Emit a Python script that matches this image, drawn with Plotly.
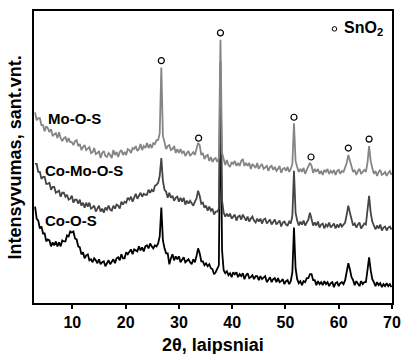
import plotly.graph_objects as go

# 2θ sampling grid (3.0 ... 69.9, step 0.3)
two_theta = [round(3.0 + 0.3 * i, 1) for i in range(224)]

mo_o_s = [
    192, 184, 186, 186, 179, 179, 173, 178, 176, 172,
    175, 168, 170, 171, 166, 172, 166, 163, 166, 167,
    162, 166, 162, 162, 159, 163, 164, 158, 160, 154,
    157, 159, 154, 156, 157, 151, 152, 156, 150, 151,
    153, 146, 151, 153, 148, 147, 151, 149, 146, 154,
    149, 152, 147, 152, 154, 149, 152, 149, 155, 154,
    151, 156, 155, 158, 153, 155, 160, 154, 158, 156,
    161, 156, 160, 156, 161, 160, 164, 164, 171, 237,
    168, 162, 155, 158, 159, 154, 155, 158, 151, 155,
    151, 155, 151, 153, 148, 151, 153, 148, 150, 152,
    149, 154, 161, 159, 149, 151, 145, 148, 149, 143,
    147, 142, 145, 146, 142, 146, 265, 151, 144, 139,
    144, 139, 137, 142, 140, 143, 138, 141, 138, 143,
    145, 138, 141, 138, 141, 135, 140, 138, 136, 141,
    135, 138, 140, 135, 137, 138, 133, 137, 138, 134,
    137, 133, 135, 138, 131, 135, 136, 133, 137, 132,
    135, 140, 181, 143, 137, 132, 135, 132, 136, 130,
    134, 137, 141, 138, 131, 135, 132, 135, 130, 133,
    129, 134, 132, 135, 130, 133, 131, 134, 129, 133,
    134, 130, 133, 132, 136, 141, 149, 143, 137, 132,
    134, 129, 133, 135, 130, 132, 134, 132, 141, 158,
    143, 136, 130, 133, 128, 132, 134, 129, 130, 132,
    128, 131, 133, 129,
]

co_mo_o_s = [
    140, 140, 132, 132, 125, 127, 127, 120, 120, 121,
    114, 117, 117, 111, 112, 113, 107, 111, 111, 107,
    109, 104, 105, 108, 101, 104, 104, 100, 104, 98,
    101, 96, 101, 97, 101, 95, 96, 98, 92, 96,
    98, 92, 95, 91, 96, 94, 98, 94, 93, 98,
    95, 99, 98, 95, 102, 99, 102, 101, 106, 104,
    107, 102, 107, 110, 105, 108, 111, 107, 110, 109,
    109, 114, 111, 114, 112, 118, 119, 121, 128, 146,
    123, 114, 112, 106, 111, 106, 108, 103, 106, 107,
    102, 106, 102, 106, 99, 103, 100, 103, 101, 98,
    102, 105, 113, 108, 100, 101, 96, 98, 93, 97,
    93, 95, 89, 92, 92, 95, 243, 103, 91, 87,
    90, 87, 90, 85, 87, 89, 83, 87, 88, 84,
    89, 86, 83, 87, 82, 85, 87, 83, 81, 85,
    82, 85, 80, 84, 85, 80, 82, 84, 79, 82,
    84, 79, 81, 83, 77, 81, 82, 79, 78, 82,
    80, 88, 133, 91, 83, 78, 82, 79, 83, 78,
    81, 84, 91, 85, 78, 81, 78, 82, 76, 79,
    80, 75, 79, 77, 81, 76, 78, 80, 75, 79,
    76, 80, 77, 79, 81, 89, 98, 91, 84, 78,
    80, 76, 79, 81, 75, 78, 80, 79, 93, 108,
    91, 82, 78, 74, 78, 75, 79, 73, 76, 77,
    73, 76, 77, 74,
]

co_o_s = [
    97, 85, 83, 75, 77, 70, 70, 62, 64, 63,
    57, 61, 58, 62, 57, 61, 57, 63, 62, 62,
    68, 67, 72, 71, 72, 65, 64, 57, 56, 49,
    51, 45, 48, 49, 43, 44, 41, 45, 43, 40,
    44, 39, 41, 42, 37, 41, 43, 39, 41, 44,
    40, 45, 46, 43, 49, 45, 45, 51, 49, 52,
    54, 49, 54, 53, 52, 57, 53, 56, 52, 57,
    58, 55, 60, 57, 55, 58, 57, 60, 67, 96,
    63, 55, 50, 50, 39, 45, 49, 43, 47, 44,
    47, 41, 44, 46, 41, 43, 44, 41, 39, 44,
    41, 47, 55, 50, 42, 42, 38, 40, 37, 39,
    35, 34, 29, 31, 34, 38, 213, 53, 33, 30,
    32, 28, 30, 26, 31, 29, 31, 26, 29, 27,
    30, 24, 28, 30, 25, 26, 28, 24, 27, 27,
    23, 27, 24, 26, 27, 21, 24, 26, 21, 24,
    25, 21, 25, 21, 22, 24, 19, 22, 23, 19,
    22, 31, 76, 35, 24, 20, 22, 18, 22, 21,
    25, 25, 29, 29, 23, 23, 18, 22, 19, 21,
    18, 22, 19, 21, 17, 20, 21, 16, 20, 21,
    17, 20, 21, 19, 23, 31, 40, 34, 26, 23,
    18, 22, 20, 17, 22, 19, 21, 21, 33, 46,
    33, 24, 21, 17, 21, 18, 20, 16, 19, 17,
    20, 17, 19, 16,
]

# SnO2 reflection markers (2θ, marker height)
sno2_2theta = [26.7, 33.7, 37.8, 51.6, 54.8, 61.8, 65.7]
sno2_mark = [244, 166, 272, 187, 147, 156, 165]

series_names = ["Co-O-S", "Co-Mo-O-S", "Mo-O-S"]
series_colors = ["#000000", "#454545", "#858585"]
label_2theta = [4.45, 4.45, 5.0]
label_y = [83, 133, 186]

fig = go.Figure()
for name, vals, col in zip(series_names, [co_o_s, co_mo_o_s, mo_o_s], series_colors):
    fig.add_trace(go.Scatter(x=two_theta, y=vals, mode="lines", name=name,
                             line=dict(color=col, width=1.8), showlegend=False))

fig.add_trace(go.Scatter(x=sno2_2theta, y=sno2_mark, mode="markers",
                         marker=dict(symbol="circle-open", size=6, color="black",
                                     line=dict(width=1.2)),
                         showlegend=False))
# legend symbol
fig.add_trace(go.Scatter(x=[59.2], y=[276], mode="markers",
                         marker=dict(symbol="circle-open", size=4.5, color="black",
                                     line=dict(width=1)),
                         showlegend=False))

font = "Arial, Liberation Sans, sans-serif"
for name, lx, ly in zip(series_names, label_2theta, label_y):
    fig.add_annotation(x=lx, y=ly, text="<b>%s</b>" % name, showarrow=False,
                       xanchor="left", yanchor="middle",
                       font=dict(family=font, size=15, color="black"))

fig.add_annotation(x=60.6, y=276, text="<b>SnO<sub>2</sub></b>", showarrow=False,
                   xanchor="left", yanchor="middle",
                   font=dict(family=font, size=16, color="black"))

fig.add_annotation(xref="paper", yref="paper", x=(15 - 34) / 366, y=0.5,
                   text="<b>Intensyvumas, sant.vnt.</b>", textangle=-90,
                   showarrow=False, xanchor="center", yanchor="middle",
                   font=dict(family=font, size=18, color="black"))
fig.add_annotation(xref="paper", yref="paper", x=0.5, y=(303 - 345) / 294,
                   text="<b>2θ, laipsniai</b>", showarrow=False,
                   xanchor="center", yanchor="middle",
                   font=dict(family=font, size=18, color="black"))

fig.update_layout(
    width=410, height=354,
    margin=dict(l=34, r=10, t=9, b=51),
    paper_bgcolor="white", plot_bgcolor="white",
    font=dict(family=font, color="black"),
)
fig.update_xaxes(range=[2.8, 70], tickmode="array",
                 tickvals=[10, 20, 30, 40, 50, 60, 70],
                 ticktext=["<b>%d</b>" % v for v in [10, 20, 30, 40, 50, 60, 70]],
                 tickfont=dict(family=font, size=16, color="black"),
                 ticks="outside", ticklen=4, tickwidth=1.5, tickcolor="black",
                 showline=True, linecolor="black", linewidth=2, mirror=True,
                 showgrid=False, zeroline=False)
fig.update_yaxes(range=[0, 294], showticklabels=False, ticks="",
                 showline=True, linecolor="black", linewidth=2, mirror=True,
                 showgrid=False, zeroline=False)

fig.write_html("out.html")
